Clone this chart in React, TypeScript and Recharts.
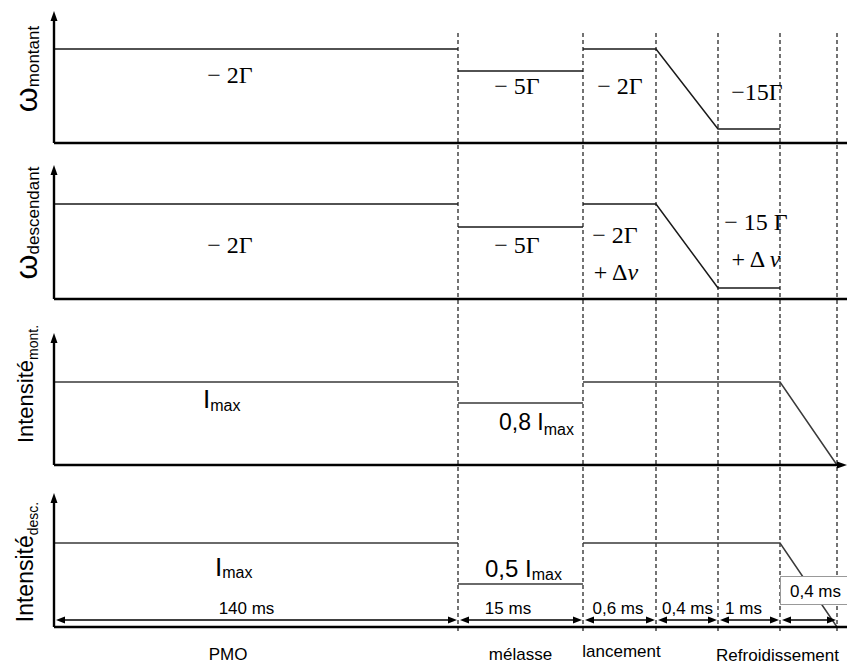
import React from "react";
import { LineChart, Line, XAxis, YAxis, ReferenceLine, ReferenceDot } from "recharts";

// schematic time axis (not to scale): boundaries of the phases of the sequence
const phaseBounds = [0, 404, 529, 602, 664, 726, 783];
const axisEnd = 793;
const phaseDurations = ["140 ms", "15 ms", "0,6 ms", "0,4 ms", "1 ms", "0,4 ms"];
const stageNames = ["PMO", "mélasse", "lancement", "Refroidissement"];
const stageFirstPhase = [0, 1, 2, 4];
const stageLastPhase = [0, 1, 2, 5];

// schematic levels at start / end of each phase (null = not drawn)
const omegaUpStart = [94, 72, 94, 94, 14, null];
const omegaUpEnd = [94, 72, 94, 14, 14, null];
const omegaDownStart = [95, 72, 95, 95, 11, null];
const omegaDownEnd = [95, 72, 95, 11, 11, null];
const intensUpStart = [83, 62, 83, 83, 83, 83];
const intensUpEnd = [83, 62, 83, 83, 83, 0];
const intensDownStart = [84, 43, 84, 84, 84, 84];
const intensDownEnd = [84, 43, 84, 84, 84, 0];

const SERIF = "'Liberation Serif', 'Times New Roman', serif";
const SANS = "'Liberation Sans', Arial, Helvetica, sans-serif";

type Pt = { t: number; v: number | null };

function buildTrace(start: (number | null)[], end: (number | null)[]): Pt[] {
    const pts: Pt[] = [];
    start.forEach((s, i) => {
        if (s === null) return;
        const last = pts[pts.length - 1];
        if (!last || last.t !== phaseBounds[i] || last.v !== s) {
            if (last && last.v !== null) pts.push({ t: phaseBounds[i], v: null });
            pts.push({ t: phaseBounds[i], v: s });
        }
        pts.push({ t: phaseBounds[i + 1], v: end[i] });
    });
    return pts;
}

function head(x1: number, y1: number, x2: number, y2: number, len: number, half: number) {
    const d = Math.hypot(x2 - x1, y2 - y1) || 1;
    const ux = (x2 - x1) / d, uy = (y2 - y1) / d;
    const bx = x2 - ux * len, by = y2 - uy * len;
    return `${x2},${y2} ${bx - uy * half},${by + ux * half} ${bx + uy * half},${by - ux * half}`;
}

// axis line, optional arrow at the far end
const axisShape = (arrow: boolean) => (p: any) => {
    const d = Math.hypot(p.x2 - p.x1, p.y2 - p.y1) || 1;
    const k = arrow ? (d - 9) / d : 1;
    return (
        <g>
            <line x1={p.x1} y1={p.y1} x2={p.x1 + (p.x2 - p.x1) * k} y2={p.y1 + (p.y2 - p.y1) * k} stroke="#000" strokeWidth={2.4} />
            {arrow && <polygon points={head(p.x1, p.y1, p.x2, p.y2, 10, 3.5)} fill="#000" />}
        </g>
    );
};

const dashShape = (p: any) => (
    <line x1={p.x1} y1={p.y1} x2={p.x2} y2={p.y2} stroke="#000" strokeWidth={1.1} strokeDasharray="4 3" />
);

function note(key: string, x: number, y: number, content: React.ReactNode) {
    return (
        <ReferenceDot key={key} x={x} y={y} r={0} ifOverflow="visible"
            shape={(p: any) => <g transform={`translate(${p.cx},${p.cy})`}>{content}</g>} />
    );
}

const greek = (children: React.ReactNode, size = 24) => (
    <text x={0} y={0} textAnchor="middle" fontFamily={SERIF} fontSize={size} fill="#000">{children}</text>
);

const sideLabel = (main: string, sub: string, mainSize: number, subSize: number, dy: number) => (
    <text transform="rotate(-90)" textAnchor="middle" fontFamily={SANS} fill="#000">
        <tspan fontSize={mainSize}>{main}</tspan>
        <tspan fontSize={subSize} dy={dy}>{sub}</tspan>
    </text>
);

const imax = (prefix: string, size: number, subSize: number, dy: number) => (
    <text x={0} y={0} fontFamily={SANS} fill="#000">
        <tspan fontSize={size}>{prefix}</tspan>
        <tspan fontSize={subSize} dy={dy}>max</tspan>
    </text>
);

type PanelProps = {
    top: number; height: number; base: number; tip: number; dashTop: number; dashBottom?: number;
    trace: Pt[]; arrowRight?: boolean; stroke?: string; children?: React.ReactNode;
};

function Panel({ top, height, base, tip, dashTop, dashBottom, trace, arrowRight, stroke, children }: PanelProps) {
    const hi = base - top;
    const lo = base - (top + height);
    return (
        <div style={{ position: "absolute", left: 0, top, width: 847, height }}>
            <LineChart width={847} height={height} data={trace} margin={{ top: 0, right: 0, bottom: 0, left: 54 }}>
                <XAxis type="number" dataKey="t" domain={[0, axisEnd]} hide allowDataOverflow />
                <YAxis type="number" domain={[lo, hi]} hide allowDataOverflow />
                {phaseBounds.slice(1).map((b) => (
                    <ReferenceLine key={"d" + b} segment={[{ x: b, y: dashTop }, { x: b, y: dashBottom ?? lo }]} shape={dashShape} />
                ))}
                <Line dataKey="v" stroke={stroke ?? "#1a1a1a"} strokeWidth={1.5} dot={false} connectNulls={false} isAnimationActive={false} />
                <ReferenceLine segment={[{ x: 0, y: 0 }, { x: axisEnd, y: 0 }]} shape={axisShape(!!arrowRight)} />
                <ReferenceLine segment={[{ x: 0, y: 0 }, { x: 0, y: tip }]} shape={axisShape(true)} />
                {children}
            </LineChart>
        </div>
    );
}

const durationShape = (i: number) => (p: any) => {
    const nudge = [-10, -13, -2, 0, -6, 0][i];
    return (
        <g>
            <line x1={p.x1 + 8} y1={p.y1} x2={p.x2 - 8} y2={p.y2} stroke="#000" strokeWidth={1.4} />
            <polygon points={head(p.x2, p.y2, p.x1, p.y1, 9, 3.5)} fill="#000" />
            <polygon points={head(p.x1, p.y1, p.x2, p.y2, 9, 3.5)} fill="#000" />
            {i < 5 && (
                <text x={(p.x1 + p.x2) / 2 + nudge} y={p.y1 - 6} textAnchor="middle" fontFamily={SANS} fontSize={17} fill="#000">
                    {phaseDurations[i]}
                </text>
            )}
        </g>
    );
};

export default function App() {
    const stageNudge = [-28, 0, 2, 0];
    const stageDrop = [-33, -33, -30, -34];
    return (
        <div style={{ position: "absolute", left: 0, top: 0, width: 847, height: 664, overflow: "hidden", background: "#fff" }}>
            <Panel top={0} height={160} base={143} tip={132} dashTop={110} trace={buildTrace(omegaUpStart, omegaUpEnd)}>
                {note("l1", 0, 74, <g transform="translate(-17,0)">{sideLabel("ω", "montant", 32, 17, 2)}</g>)}
                {note("a1", 176, 60, greek("− 2Γ"))}
                {note("a2", 463, 49, greek("− 5Γ"))}
                {note("a3", 566, 49, greek("− 2Γ"))}
                {note("a4", 703, 43, greek("−15Γ"))}
            </Panel>
            <Panel top={160} height={160} base={299} tip={134} dashTop={139} trace={buildTrace(omegaDownStart, omegaDownEnd)}>
                {note("l2", 0, 76, <g transform="translate(-17,0)">{sideLabel("ω", "descendant", 32, 17, 2)}</g>)}
                {note("b1", 176, 46, greek("− 2Γ"))}
                {note("b2", 463, 46, greek("− 5Γ"))}
                {note("b3", 561, 56, greek("− 2Γ"))}
                {note("b4", 562, 19, greek(<>+ Δ<tspan fontStyle="italic">ν</tspan></>))}
                {note("b5", 702, 69, greek("− 15 Γ"))}
                {note("b6", 702, 32, greek(<>+ Δ <tspan fontStyle="italic">ν</tspan></>))}
            </Panel>
            <Panel top={320} height={160} base={465} tip={132} dashTop={145} arrowRight stroke="#3a3a3a" trace={buildTrace(intensUpStart, intensUpEnd)}>
                {note("l3", 0, 81, <g transform="translate(-21,0)">{sideLabel("Intensité", "mont.", 22, 14, 5)}</g>)}
                {note("c1", 149, 57, imax("I", 26, 16, 3))}
                {note("c2", 445, 35, imax("0,8 I", 23, 16, 5))}
            </Panel>
            <Panel top={480} height={184} base={627} tip={134} dashTop={147} dashBottom={-5} stroke="#3a3a3a" trace={buildTrace(intensDownStart, intensDownEnd)}>
                {note("l4", 0, 65, <g transform="translate(-21,0)">{sideLabel("Intensité", "desc.", 23, 14, 5)}</g>)}
                {note("d1", 161, 51, imax("I", 26, 16, 2))}
                {note("d2", 431, 50, imax("0,5 I", 24, 16, 3))}
                {phaseDurations.map((_, i) => (
                    <ReferenceLine key={"m" + i} segment={[{ x: phaseBounds[i] + 2, y: 7 }, { x: phaseBounds[i + 1] - 1, y: 7 }]} shape={durationShape(i)} />
                ))}
                {stageNames.map((name, i) => {
                    const cx = (phaseBounds[stageFirstPhase[i]] + phaseBounds[stageLastPhase[i] + 1]) / 2 + stageNudge[i];
                    return note("s" + i, cx, stageDrop[i],
                        <text textAnchor="middle" fontFamily={SANS} fontSize={17} fill="#000">{name}</text>);
                })}
            </Panel>
            <div style={{
                position: "absolute", left: 780, top: 576, width: 67, height: 29, background: "#fff",
                borderTop: "1px solid #999", borderLeft: "1px solid #999", borderBottom: "1px solid #999",
                fontFamily: SANS, fontSize: 17, lineHeight: "29px", paddingLeft: 9, boxSizing: "border-box", color: "#000"
            }}>
                {phaseDurations[5]}
            </div>
        </div>
    );
}
